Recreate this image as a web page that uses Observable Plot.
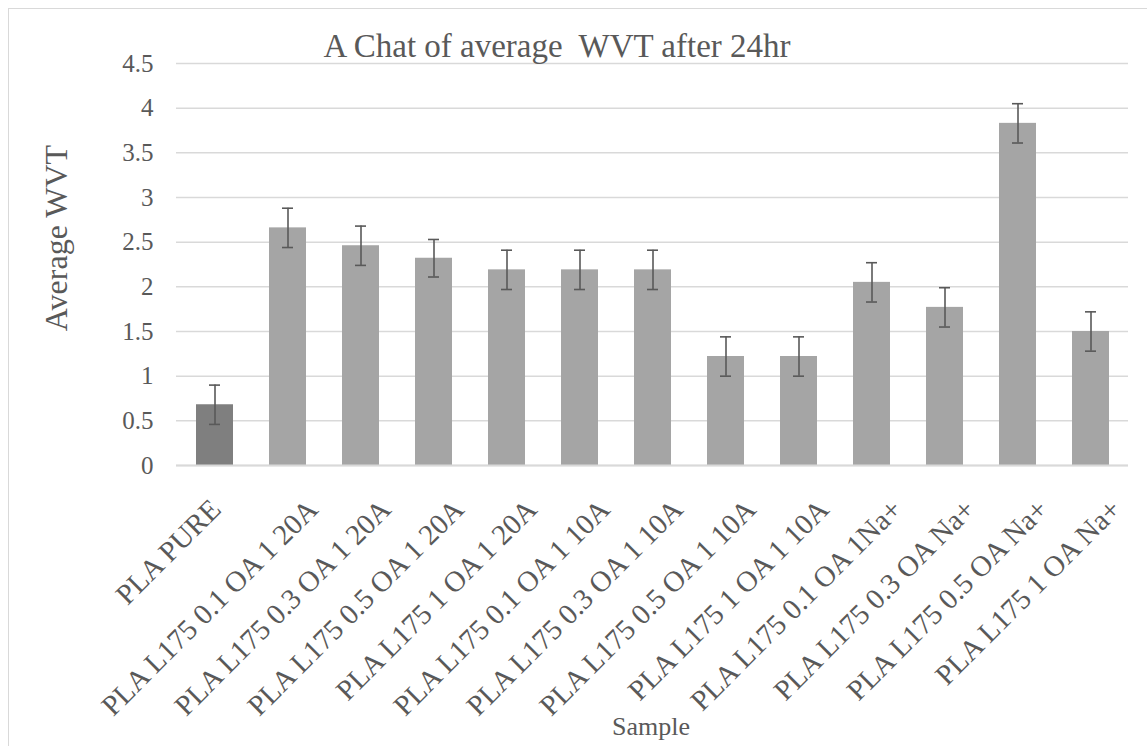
<!DOCTYPE html>
<html><head><meta charset="utf-8">
<script src="https://cdn.jsdelivr.net/npm/d3@7"></script>
<script src="https://cdn.jsdelivr.net/npm/@observablehq/plot@0.6"></script>
<style>
body{margin:0;background:#fff;}
#wrap{position:relative;width:1147px;height:746px;overflow:hidden;background:#fff;}
#border{position:absolute;left:8px;top:8px;width:1300px;height:900px;border:1.5px solid #d9d9d9;box-sizing:border-box;}
#chart{position:absolute;left:0;top:0;}
#chart svg, #chart svg text{font-family:"Liberation Serif", "Times New Roman", serif !important;}
</style>
</head><body>
<div id="wrap"><div id="border"></div><div id="chart"></div></div>
<script>
const samples = [
  "PLA PURE",
  "PLA L175 0.1 OA 1 20A",
  "PLA L175 0.3 OA 1 20A",
  "PLA L175 0.5 OA 1 20A",
  "PLA L175 1 OA 1 20A",
  "PLA L175 0.1 OA 1 10A",
  "PLA L175 0.3 OA 1 10A",
  "PLA L175 0.5 OA 1 10A",
  "PLA L175 1 OA 1 10A",
  "PLA L175 0.1 OA 1Na+",
  "PLA L175 0.3 OA Na+",
  "PLA L175 0.5 OA Na+",
  "PLA L175 1 OA Na+"
];
const values = [0.68, 2.66, 2.46, 2.32, 2.19, 2.19, 2.19, 1.22, 1.22, 2.05, 1.77, 3.83, 1.50];
const errors = [0.22, 0.22, 0.22, 0.21, 0.22, 0.22, 0.22, 0.22, 0.22, 0.22, 0.22, 0.22, 0.22];
const yTicks = [0, 0.5, 1, 1.5, 2, 2.5, 3, 3.5, 4, 4.5];
const titleText = "A Chat of average  WVT after 24hr";
const yLabel = "Average WVT";
const xLabel = "Sample";

const data = samples.map((s, i) => ({sample: s, value: values[i], err: errors[i], first: i === 0}));
const TXT = "#595959";

const labelOpts = {x: "sample", text: "sample", frameAnchor: "bottom", rotate: -45, textAnchor: "end",
  lineAnchor: "middle", fontSize: 29, fill: TXT, dy: 39};

const plot = Plot.plot({
  width: 1147,
  height: 746,
  marginLeft: 176,
  marginRight: 19,
  marginTop: 63,
  marginBottom: 281,
  style: {background: "transparent", overflow: "visible", color: TXT},
  x: {domain: samples, paddingInner: 0.5, paddingOuter: 0.25, label: null, axis: null},
  y: {domain: [0, 4.5], ticks: yTicks, label: null},
  marks: [
    Plot.gridY(yTicks, {stroke: "#d9d9d9", strokeOpacity: 1, strokeWidth: 1.5}),
    Plot.barY(data, {x: "sample", y: "value", fill: d => d.first ? "#7f7f7f" : "#a5a5a5"}),
    Plot.ruleX(data, {x: "sample", y1: d => d.value - d.err, y2: d => d.value + d.err, stroke: "#595959", strokeWidth: 1.6}),
    Plot.tickY(data, {x: "sample", y: d => d.value + d.err, stroke: "#595959", strokeWidth: 1.6, insetLeft: 13, insetRight: 13}),
    Plot.tickY(data, {x: "sample", y: d => d.value - d.err, stroke: "#595959", strokeWidth: 1.6, insetLeft: 13, insetRight: 13}),
    Plot.axisY({ticks: yTicks, tickSize: 0, tickPadding: 23, fontSize: 25, tickFormat: d => String(d), label: null, fill: TXT}),
    Plot.text(data.filter(d => d.first), {...labelOpts, dx: 1}),
    Plot.text(data.filter(d => !d.first), {...labelOpts, dx: 25}),
    Plot.ruleY([0], {stroke: "#d9d9d9", strokeWidth: 2})
  ]
});
document.getElementById("chart").appendChild(plot);

const svg = d3.select(plot);
svg.append("text").attr("x", 557).attr("y", 57).attr("text-anchor", "middle").attr("font-size", 33).attr("fill", TXT)
  .attr("xml:space", "preserve").style("white-space", "pre").text(titleText);
svg.append("text").attr("transform", "translate(67,238) rotate(-90)").attr("text-anchor", "middle")
  .attr("font-size", 32).attr("fill", TXT).text(yLabel);
svg.append("text").attr("x", 651).attr("y", 735).attr("text-anchor", "middle")
  .attr("font-size", 26).attr("fill", TXT).text(xLabel);
</script>
</body></html>
